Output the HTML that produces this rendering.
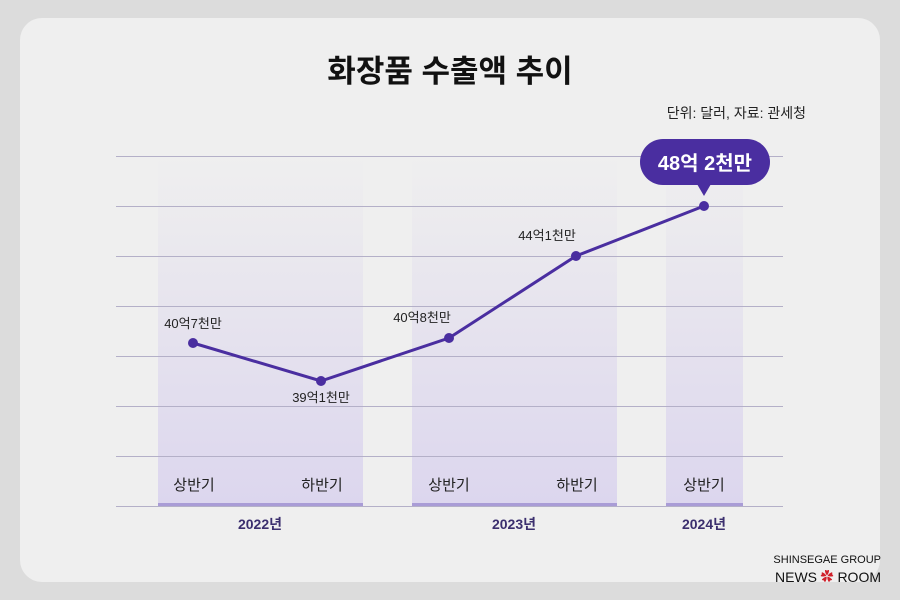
<!DOCTYPE html>
<html><head><meta charset="utf-8"><style>
body{margin:0;width:900px;height:600px;background:#dcdcdc;font-family:"Liberation Sans","Noto Sans CJK KR",sans-serif;overflow:hidden}
.card{position:absolute;left:20px;top:18px;width:860px;height:564px;background:#efefef;border-radius:22px}
</style></head><body>
<div class="card"></div>
<svg width="900" height="600" style="position:absolute;left:0;top:0" font-family="Liberation Sans, Noto Sans CJK KR, sans-serif">
<defs><linearGradient id="g" x1="0" y1="0" x2="0" y2="1"><stop offset="0" stop-color="#dcd6ec" stop-opacity="0"/><stop offset="1" stop-color="#dcd6ee"/></linearGradient></defs>
<rect x="158" y="156" width="205" height="350" fill="url(#g)"/>
<rect x="412" y="156" width="205" height="350" fill="url(#g)"/>
<rect x="666" y="156" width="77" height="350" fill="url(#g)"/>
<g stroke="#b4b0c8" stroke-width="1">
<line x1="116" x2="783" y1="156.5" y2="156.5"/><line x1="116" x2="783" y1="206.5" y2="206.5"/>
<line x1="116" x2="783" y1="256.5" y2="256.5"/><line x1="116" x2="783" y1="306.5" y2="306.5"/>
<line x1="116" x2="783" y1="356.5" y2="356.5"/><line x1="116" x2="783" y1="406.5" y2="406.5"/>
<line x1="116" x2="783" y1="456.5" y2="456.5"/><line x1="116" x2="783" y1="506.5" y2="506.5"/>
</g>
<g fill="#a99cd6"><rect x="158" y="503" width="205" height="3"/><rect x="412" y="503" width="205" height="3"/><rect x="666" y="503" width="77" height="3"/></g>
<text x="450" y="82" text-anchor="middle" font-size="31" font-weight="bold" fill="#111">화장품 수출액 추이</text>
<text x="806" y="118" text-anchor="end" font-size="14" fill="#222">단위: 달러, 자료: 관세청</text>
<polyline points="193,343 321,381 449,338 576,256 704,206" fill="none" stroke="#4a2ea0" stroke-width="3"/>
<g fill="#4a2ea0"><circle cx="193" cy="343" r="5"/><circle cx="321" cy="381" r="5"/><circle cx="449" cy="338" r="5"/><circle cx="576" cy="256" r="5"/><circle cx="704" cy="206" r="5"/></g>
<rect x="640" y="139" width="130" height="46" rx="23" fill="#4a2ea0"/>
<polygon points="697,184 711,184 704,196" fill="#4a2ea0"/>
<text x="705" y="170" text-anchor="middle" font-size="20" font-weight="bold" fill="#fff">48억 2천만</text>
<g font-size="13" fill="#222" text-anchor="middle">
<text x="193" y="328">40억7천만</text><text x="321" y="402">39억1천만</text>
<text x="422" y="322">40억8천만</text><text x="547" y="240">44억1천만</text>
</g>
<g font-size="15" fill="#222" text-anchor="middle">
<text x="194" y="490">상반기</text><text x="322" y="490">하반기</text>
<text x="449" y="490">상반기</text><text x="577" y="490">하반기</text><text x="704" y="490">상반기</text>
</g>
<g font-size="14" font-weight="bold" fill="#3b2f6e" text-anchor="middle">
<text x="260" y="529">2022년</text><text x="514" y="529">2023년</text><text x="704" y="529">2024년</text>
</g>
<text x="881" y="563" text-anchor="end" font-size="11" fill="#111">SHINSEGAE GROUP</text>
<text x="775" y="582" font-size="14" fill="#111">NEWS</text>
<text x="827" y="581" text-anchor="middle" font-size="13" fill="#d0202a">✿</text>
<text x="881" y="582" text-anchor="end" font-size="14" fill="#111">ROOM</text>
</svg>
</body></html>
